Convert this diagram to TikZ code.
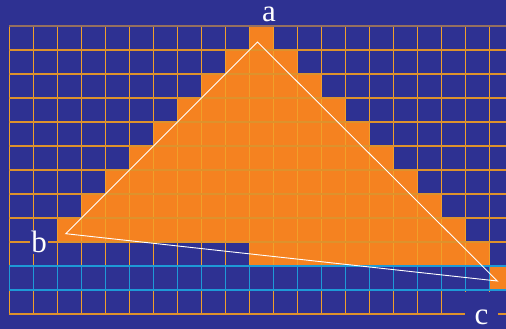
\documentclass[tikz,border=0pt]{standalone}
\usepackage{fontspec}
\setmainfont{Liberation Serif}
\usepackage{tikz}
\definecolor{rastblue}{RGB}{46,49,146}
\definecolor{rastorange}{RGB}{245,130,32}
\definecolor{rastline}{RGB}{240,160,42}
\definecolor{rastlineh}{RGB}{222,146,44}
\definecolor{rasttop}{RGB}{150,112,96}
\definecolor{rastcyan}{RGB}{30,154,214}

\begin{document}
\begin{tikzpicture}[
  x=24pt, y=-24pt,
  cellfill/.style={fill=rastorange},
  gridh/.style={draw=rastlineh, line width=2pt},
  gridv/.style={draw=rastline, line width=1pt},
  scanrow/.style={draw=rastcyan, line width=2pt},
  tri/.style={draw=white, line width=0.9pt, line join=miter},
  lbl/.style={text=white, font=\fontsize{31}{31}\selectfont, anchor=base, inner sep=1pt}]

\useasboundingbox (-0.395833,-1.083333) rectangle (20.6875,12.625);
\fill[rastblue] (-0.395833,-1.083333) rectangle (20.6875,12.625);
\clip (-0.395833,-1.083333) rectangle (20.6875,12.625);

% covered cells, row/first/last
\foreach \r/\f/\t in {0/10/10, 1/9/11, 2/8/12, 3/7/13, 4/6/14, 5/5/15,
                      6/4/16, 7/3/17, 8/2/18, 9/10/19, 10/20/20}
  \fill[cellfill] (\f,\r) rectangle (\t+1,\r+1);

% grid
\foreach \x in {0,...,21}
  \draw[gridv] (\x,0) -- (\x,12);
\draw[gridh, draw=rasttop] (0,0) -- (21,0);
\foreach \y in {1,...,12}
  \draw[gridh] (0,\y) -- (21,\y);

% scan row
\foreach \x in {0,...,21}
  \draw[gridv, draw=rastcyan] (\x,10) -- (\x,11);
\foreach \y in {10,11}
  \draw[scanrow] (0,\y) -- (21,\y);

% triangle
\coordinate (a) at (10.333,0.667);
\coordinate (b) at (2.342,8.654);
\coordinate (c) at (20.325,10.625);
\draw[tri] (a) -- (b) -- (c) -- cycle;

\node[lbl] (la) at (10.8125,-0.1667) {a};
\node[lbl, fill=rastblue] (lb) at (1.2375,9.458) {b};
\node[lbl, fill=rastblue, inner xsep=10pt, text height=31pt, text depth=0pt] (lc) at (19.667,12.417) {c};
\end{tikzpicture}
\end{document}
